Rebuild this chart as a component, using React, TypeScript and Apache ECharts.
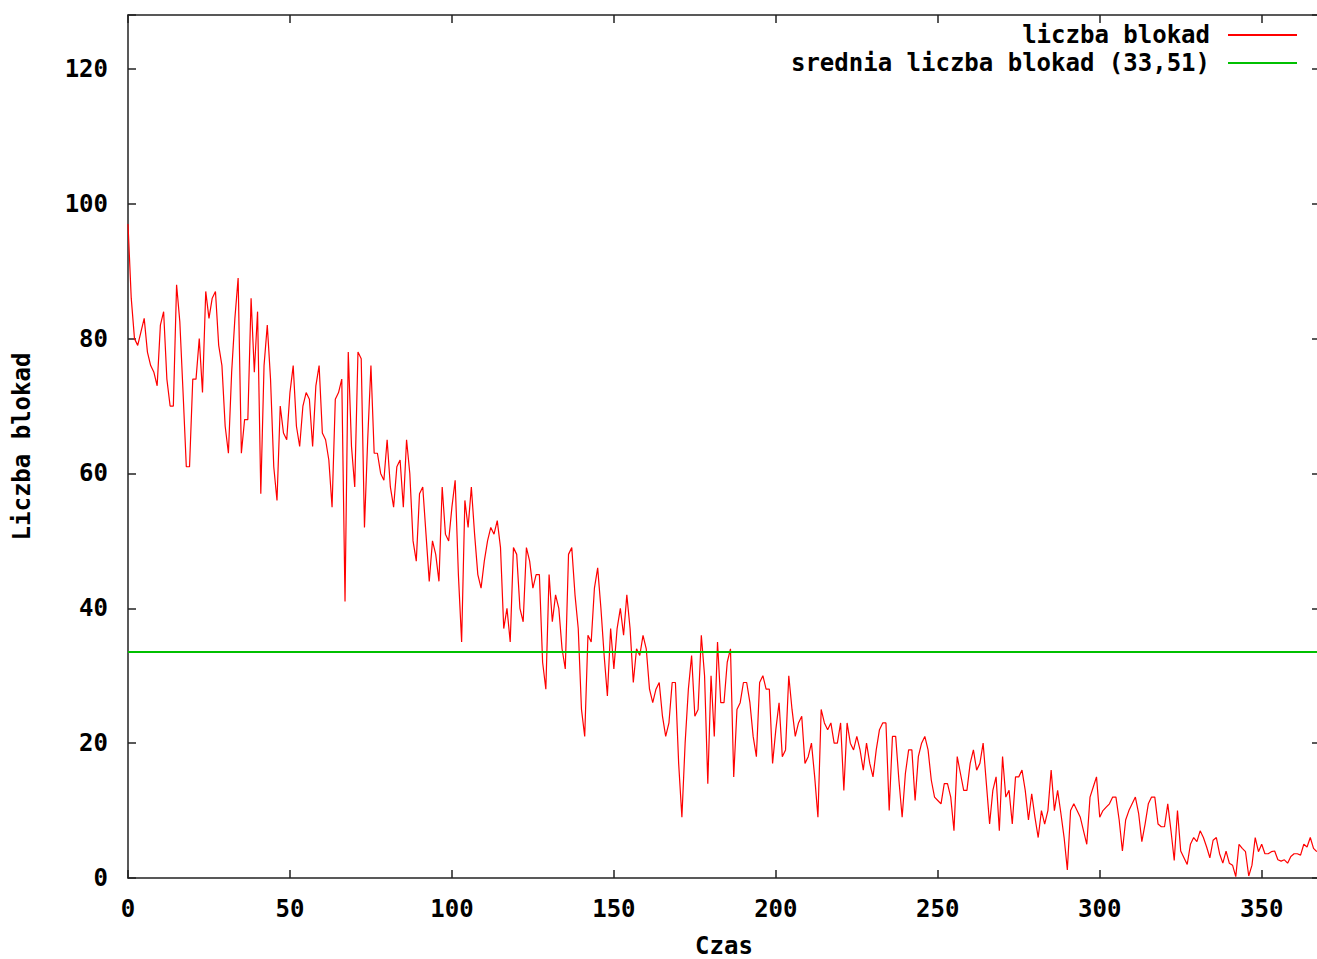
import { useEffect, useRef } from "react";
import * as echarts from "echarts";

// liczba blokad, one value per time unit (t = 0 .. 367)
const blockCounts: number[] = [
  97, 86, 80, 79, 81, 83, 78, 76, 75, 73, 82, 84, 74, 70, 70, 88, 82.5, 72, 61, 61,
  74, 74, 80, 72, 87, 83, 86, 87, 79, 76, 67, 63, 75, 83, 89, 63, 68, 68, 86, 75,
  84, 57, 76, 82, 74, 61, 56, 70, 66, 65, 72, 76, 67, 64, 70, 72, 71, 64, 73, 76,
  66, 65, 62, 55, 71, 72, 74, 41, 78, 64, 58, 78, 77, 52, 65, 76, 63, 63, 60, 59,
  65, 58, 55, 61, 62, 55, 65, 60, 50, 47, 57, 58, 51, 44, 50, 48, 44, 58, 51, 50,
  55, 59, 45, 35, 56, 52, 58, 51, 45, 43, 47, 50, 52, 51, 53, 49, 37, 40, 35, 49,
  48, 40, 38, 49, 47, 43, 45, 45, 32, 28, 45, 38, 42, 40, 34, 31, 48, 49, 42, 37,
  25, 21, 36, 35, 43, 46, 40, 33, 27, 37, 31, 37, 40, 36, 42, 37, 29, 34, 33, 36,
  34, 28, 26, 28, 29, 24, 21, 23, 29, 29, 17, 9, 20, 28, 33, 24, 25, 36, 30, 14,
  30, 21, 35, 26, 26, 32, 34, 15, 25, 26, 29, 29, 26, 21, 18, 29, 30, 28, 28, 17,
  22, 26, 18, 19, 30, 25, 21, 23, 24, 17, 18, 20, 15, 9, 25, 23, 22, 23, 20, 20,
  23, 13, 23, 20, 19, 21, 19, 16, 20, 17, 15, 19, 22, 23, 23, 10, 21, 21, 14.5, 9,
  15.5, 19, 19, 11.5, 18, 20, 21, 19, 14.5, 12, 11.5, 11, 14, 14, 12, 7, 18, 15.5, 13, 13,
  17, 19, 16, 17, 20, 14, 8, 13, 15, 7, 18, 12, 13, 8, 15, 15, 16, 13, 8.6, 12.5,
  9, 6, 10, 8, 10, 16, 10, 13, 9.6, 6, 1.2, 10, 11, 10, 9, 7, 5, 12, 13.5, 15,
  9, 10, 10.5, 11, 12, 12, 8.6, 4, 8.6, 10, 11, 12, 9.6, 5.4, 8, 11, 12, 12, 8, 7.6,
  7.6, 11, 7, 2.6, 10, 4, 3, 2, 5, 6, 5.4, 7, 6, 4.6, 3, 5.6, 6, 3.6, 2.2, 4,
  2.2, 1.9, 0.2, 5, 4.4, 3.9, 0.3, 1.9, 6, 3.9, 5, 3.6, 3.6, 3.9, 4, 2.7, 2.5, 2.7, 2.2, 3.2,
  3.6, 3.6, 3.4, 5, 4.6, 6, 4.4, 3.9,
];

const averageBlocks = 33.51;
const seriesNames = ["liczba blokad", "srednia liczba blokad (33,51)"];
const xTicks = [0, 50, 100, 150, 200, 250, 300, 350];
const yTicks = [0, 20, 40, 60, 80, 100, 120];
const X_MAX = 368;
const Y_MAX = 128;

export default function App() {
  const ref = useRef<HTMLDivElement>(null);

  useEffect(() => {
    if (!ref.current) return;
    const chart = echarts.init(ref.current, null, { renderer: "svg" });
    const font = {
      fontFamily: "DejaVu Sans Mono",
      fontWeight: "bold" as const,
      fontSize: 24,
      color: "#000",
    };
    const axisLine = { show: true, onZero: false, lineStyle: { color: "#222", width: 1.5 } };
    const axisTick = { show: true, inside: true, length: 8, lineStyle: { color: "#222", width: 1.5 } };

    chart.setOption({
      animation: false,
      backgroundColor: "#fff",
      grid: {
        left: 128,
        right: -3,
        top: 15,
        bottom: 81,
        containLabel: false,
        outerBoundsMode: "none",
      },
      legend: {
        orient: "vertical",
        right: 20,
        top: 23,
        padding: 0,
        align: "right",
        itemWidth: 69,
        itemHeight: 2,
        itemGap: 4,
        icon: "rect",
        selectedMode: false,
        textStyle: { ...font, lineHeight: 24, padding: [0, 13, 0, 0] },
        data: seriesNames,
      },
      xAxis: [
        {
          type: "value",
          position: "bottom",
          min: 0,
          max: X_MAX,
          interval: 50,
          name: "Czas",
          nameLocation: "middle",
          nameGap: 58,
          nameTextStyle: { ...font, lineHeight: 20 },
          axisLine,
          axisTick,
          axisLabel: {
            ...font,
            margin: 19,
            formatter: (v: number) => (xTicks.includes(v) ? String(v) : ""),
          },
          splitLine: { show: false },
        },
        {
          type: "value",
          position: "top",
          min: 0,
          max: X_MAX,
          interval: 50,
          axisLine,
          axisTick,
          axisLabel: { show: false },
          splitLine: { show: false },
        },
      ],
      yAxis: [
        {
          type: "value",
          position: "left",
          min: 0,
          max: Y_MAX,
          interval: 20,
          name: "Liczba blokad",
          nameLocation: "middle",
          nameGap: 94,
          nameRotate: 90,
          nameTextStyle: font,
          axisLine,
          axisTick,
          axisLabel: {
            ...font,
            margin: 20,
            formatter: (v: number) => (yTicks.includes(v) ? String(v) : ""),
          },
          splitLine: { show: false },
        },
        {
          type: "value",
          position: "right",
          min: 0,
          max: Y_MAX,
          interval: 20,
          axisLine,
          axisTick,
          axisLabel: { show: false },
          splitLine: { show: false },
        },
      ],
      series: [
        {
          name: seriesNames[0],
          type: "line",
          data: blockCounts.map((v, i) => [i, v]),
          showSymbol: false,
          symbol: "none",
          lineStyle: { color: "#ff0000", width: 1.2 },
          itemStyle: { color: "#ff0000" },
        },
        {
          name: seriesNames[1],
          type: "line",
          data: [
            [0, averageBlocks],
            [X_MAX, averageBlocks],
          ],
          showSymbol: false,
          symbol: "none",
          lineStyle: { color: "#00c000", width: 2 },
          itemStyle: { color: "#00c000" },
        },
      ],
    });

    return () => chart.dispose();
  }, []);

  return (
    <div
      ref={ref}
      style={{ position: "fixed", left: 0, top: 0, width: 1317, height: 959, background: "#fff" }}
    />
  );
}
